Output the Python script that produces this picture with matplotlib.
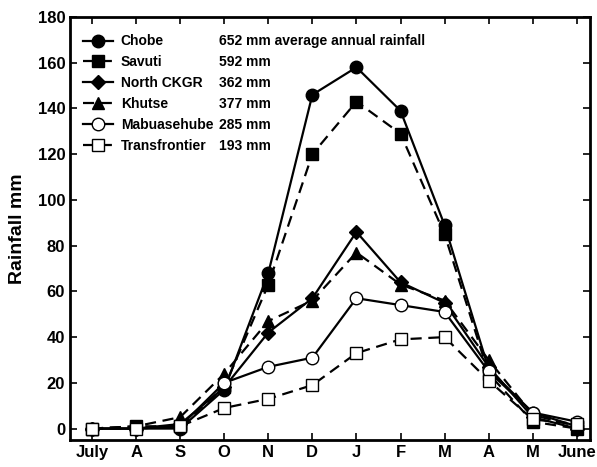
import matplotlib
matplotlib.use("Agg")
import matplotlib.pyplot as plt

plt.rcParams['font.family'] = ['Liberation Sans', 'DejaVu Sans']
plt.rcParams['font.weight'] = 'bold'

months = ["July", "A", "S", "O", "N", "D", "J", "F", "M", "A", "M", "June"]

chobe = [0, 0, 0, 17, 68, 146, 158, 139, 89, 26, 7, 1]
savuti = [0, 1, 1, 18, 63, 120, 143, 129, 85, 24, 3, 0]
north_ckgr = [0, 0, 2, 18, 42, 57, 86, 64, 55, 27, 5, 0]
khutse = [0, 1, 5, 24, 47, 56, 77, 63, 56, 30, 6, 1]
mabuasehube = [0, 0, 1, 20, 27, 31, 57, 54, 51, 25, 7, 3]
transfrontier = [0, 0, 1, 9, 13, 19, 33, 39, 40, 21, 4, 2]

names = ["Chobe", "Savuti", "North CKGR", "Khutse", "Mabuasehube", "Transfrontier"]
totals = ["652 mm average annual rainfall", "592 mm", "362 mm", "377 mm", "285 mm", "193 mm"]
series = [chobe, savuti, north_ckgr, khutse, mabuasehube, transfrontier]

markers = ['o', 's', 'D', '^', 'o', 's']
styles = ['-', '--', '-', '--', '-', '--']
faces = ['black', 'black', 'black', 'black', 'white', 'white']
sizes = [9, 9, 7, 9, 9, 9]

fig = plt.figure(figsize=(5.97, 4.67), dpi=100)
ax = fig.add_axes([70/597, 27/467, 520/597, 423/467])

x = list(range(len(months)))
handles = []
for vals, name, m, ls, fc, ms in zip(series, names, markers, styles, faces, sizes):
    h, = ax.plot(x, vals, linestyle=ls, marker=m, color='black', markerfacecolor=fc,
                 markeredgecolor='black', markersize=ms, linewidth=1.6, label=name,
                 dashes=(5, 3) if ls == '--' else (None, None))
    handles.append(h)

ax.set_xlim(-0.5, 11.3)
ax.set_ylim(-5, 180)
ax.set_yticks(range(0, 181, 20))
ax.set_xticks(x)
ax.set_xticklabels(months)
ax.tick_params(direction='in', top=True, right=True, labelsize=12, width=1.2, length=5)
for lab in ax.get_xticklabels() + ax.get_yticklabels():
    lab.set_fontweight('bold')
for s in ax.spines.values():
    s.set_linewidth(2)
ax.set_ylabel("Rainfall mm", fontsize=14, fontweight='bold', labelpad=8)

leg = ax.legend(handles=handles, loc='upper left', frameon=False, fontsize=10,
                handlelength=2.1, handletextpad=0.6, labelspacing=0.5,
                borderaxespad=0.0, bbox_to_anchor=(0.015, 0.972))
fig.canvas.draw()
inv = ax.transAxes.inverted()
for txt, tot in zip(leg.get_texts(), totals):
    bb = txt.get_window_extent()
    yc = inv.transform(((bb.x0 + bb.x1) / 2, (bb.y0 + bb.y1) / 2))[1]
    ax.text(149/520, yc, tot, transform=ax.transAxes, fontsize=10,
            fontweight='bold', va='center', ha='left')

fig.savefig("out.png", dpi=100)
